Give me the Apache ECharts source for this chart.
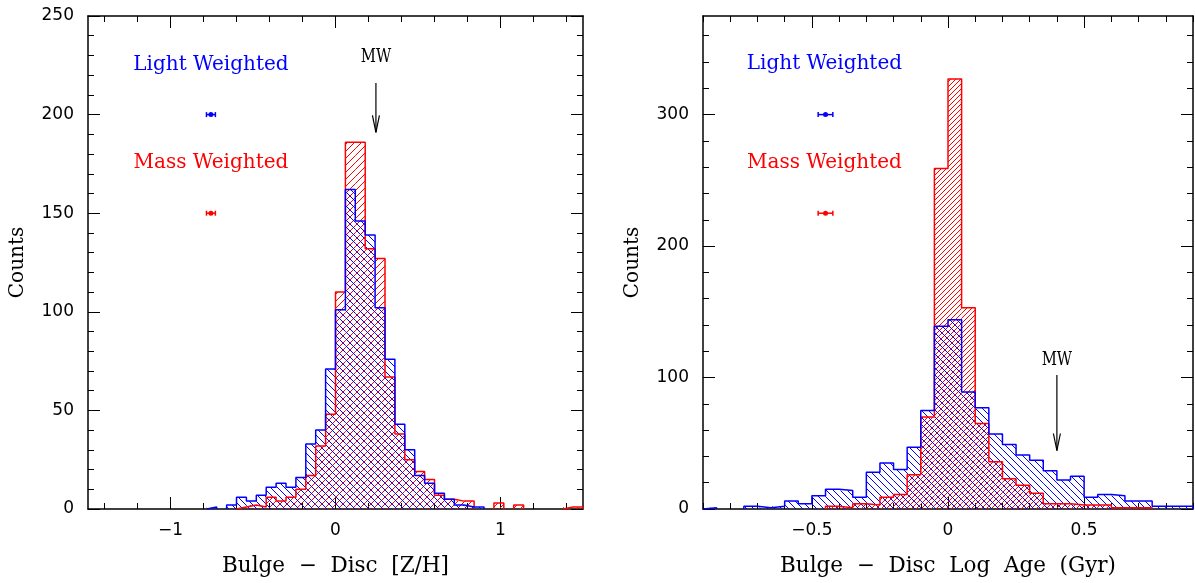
<!DOCTYPE html>
<html lang="en">
<head>
<meta charset="UTF-8">
<title>Bulge - Disc histograms</title>
<script src="https://cdn.jsdelivr.net/npm/echarts@6/dist/echarts.min.js"></script>
<style>
  html, body { margin: 0; padding: 0; background: #fff; }
  #chart { width: 1195px; height: 583px; }
</style>
</head>
<body>
<div id="chart"></div>
<script>
// ---- data: histogram counts ----
// left panel: bins of 0.06 in [Z/H], from -1.5 to 1.5
var leftBinStart = -1.5, leftBinWidth = 0.06;
var leftLight = [0,0,0,0,0,0,0,0,0,0, 0,0,1,0,2,6,4,7,11,13,
                 11,16,33,40,71,101,162,146,139,102, 76,43,30,17,13,8,5,2,1,1,
                 0,0,0,0,0,0,0,0,0,0];
var leftMass  = [0,0,0,0,0,0,0,0,0,0, 0,0,0,0,0,1,2,1,6,4,
                 6,10,17,32,48,110,186,186,132,127, 67,38,25,19,15,7,5,4,4,0,
                 0,3,0,2,0,0,0,0,1,1];

// right panel: bins of 0.05 in log age, from -0.9 to 0.9
var rightBinStart = -0.9, rightBinWidth = 0.05;
var rightLight = [1,0,0,2,1,2,6,4,10,15, 14,9,28,35,30,47,75,139,144,89,
                  77,57,49,41,37,29,22,25,9,11, 10,6,6,2,2,2];
var rightMass  = [0,0,0,0,0,0,0,0,0,2, 1,4,3,9,11,26,70,259,327,153,
                  65,36,23,18,12,4,4,3,3,3, 1,1,1,0,0,0];

// typical error bars (x, y, half width)
var leftErrLight = [-0.755, 200, 0.027];
var leftErrMass  = [-0.755, 150, 0.027];
var rightErrLight = [-0.45, 300, 0.027];
var rightErrMass  = [-0.45, 225, 0.027];

// legend texts (x, y)
var leftTextLight = [-0.755, 225.5], leftTextMass = [-0.755, 175.5];
var rightTextLight = [-0.454, 338.5], rightTextMass = [-0.454, 263.5];

// Milky Way arrows: x, top, tip, label y
var leftMW = [0.245, 216, 191, 229];
var rightMW = [0.40, 102, 44.5, 113.5];

// tick values
var leftMajor = [-1, 0, 1];
var rightMajor = [-0.5, 0, 0.5];
var leftYMajor = [0, 50, 100, 150, 200, 250];
var rightYMajor = [0, 100, 200, 300];

function range(a, b, step) {
    var out = [];
    var n = Math.round((b - a) / step);
    for (var i = 0; i <= n; i++) out.push(+(a + i * step).toFixed(4));
    return out;
}

var BLUE = '#0000ff', RED = '#ff0000';
var TICK_FONT = 'DejaVu Sans', TEXT_FONT = 'DejaVu Serif';

// hatch pattern: dir '/' or '\'
function hatch(color, s, dir) {
    var c = document.createElement('canvas');
    c.width = s; c.height = s;
    var ctx = c.getContext('2d');
    ctx.strokeStyle = color;
    ctx.lineWidth = 1;
    ctx.beginPath();
    if (dir === '/') {
        ctx.moveTo(0, s); ctx.lineTo(s, 0);
        ctx.moveTo(-1, 1); ctx.lineTo(1, -1);
        ctx.moveTo(s - 1, s + 1); ctx.lineTo(s + 1, s - 1);
    } else {
        ctx.moveTo(0, 0); ctx.lineTo(s, s);
        ctx.moveTo(-1, s - 1); ctx.lineTo(1, s + 1);
        ctx.moveTo(s - 1, -1); ctx.lineTo(s + 1, 1);
    }
    ctx.stroke();
    return {image: c, repeat: 'repeat'};
}

function bins(start, width, counts) {
    return counts.map(function (v, i) {
        return [+(start + i * width).toFixed(4), +(start + (i + 1) * width).toFixed(4), v];
    });
}

// outer outline of a histogram, broken where counts are zero
function outline(start, width, counts) {
    var pts = [];
    var inRun = false;
    for (var i = 0; i < counts.length; i++) {
        var x0 = +(start + i * width).toFixed(4), x1 = +(start + (i + 1) * width).toFixed(4);
        if (counts[i] > 0) {
            if (!inRun) { pts.push([x0, 0]); inRun = true; }
            pts.push([x0, counts[i]]);
            pts.push([x1, counts[i]]);
        } else if (inRun) {
            pts.push([x0, 0]);
            pts.push(null);
            inRun = false;
        }
    }
    if (inRun) pts.push([+(start + counts.length * width).toFixed(4), 0]);
    return pts;
}

function fillSeries(axis, data, pattern) {
    return {
        type: 'custom', xAxisIndex: axis, yAxisIndex: axis, z: 2,
        data: data, silent: true,
        renderItem: function (params, api) {
            var c = api.value(2);
            if (!c) return null;
            var p0 = api.coord([api.value(0), c]);
            var p1 = api.coord([api.value(1), 0]);
            return {type: 'rect',
                shape: {x: p0[0], y: p0[1], width: p1[0] - p0[0], height: p1[1] - p0[1]},
                style: {fill: pattern}};
        }
    };
}

function lineSeries(axis, data, color) {
    return {
        type: 'line', xAxisIndex: axis, yAxisIndex: axis, z: 4,
        data: data, symbol: 'none', connectNulls: false, silent: true,
        lineStyle: {color: color, width: 1.5}
    };
}

function errSeries(axis, pt, color) {
    return {
        type: 'custom', xAxisIndex: axis, yAxisIndex: axis, z: 5, silent: true,
        data: [pt],
        renderItem: function (params, api) {
            var c = api.coord([api.value(0), api.value(1)]);
            var l = api.coord([api.value(0) - api.value(2), api.value(1)]);
            var r = api.coord([api.value(0) + api.value(2), api.value(1)]);
            var st = {stroke: color, lineWidth: 1.5};
            return {type: 'group', children: [
                {type: 'line', shape: {x1: l[0], y1: c[1], x2: r[0], y2: c[1]}, style: st},
                {type: 'line', shape: {x1: l[0], y1: c[1] - 2.5, x2: l[0], y2: c[1] + 2.5}, style: st},
                {type: 'line', shape: {x1: r[0], y1: c[1] - 2.5, x2: r[0], y2: c[1] + 2.5}, style: st},
                {type: 'circle', shape: {cx: c[0], cy: c[1], r: 2.5}, style: {fill: color}}
            ]};
        }
    };
}

function textSeries(axis, items) {
    return {
        type: 'custom', xAxisIndex: axis, yAxisIndex: axis, z: 6, silent: true,
        data: items.map(function (t) { return t.pos; }),
        renderItem: function (params, api) {
            var t = items[params.dataIndex];
            var c = api.coord([api.value(0), api.value(1)]);
            return {type: 'text', x: c[0], y: c[1], scaleX: t.sx || 1,
                style: {text: t.text, fill: t.color, fontSize: t.size, fontFamily: TEXT_FONT,
                        align: 'center', verticalAlign: 'middle'}};
        }
    };
}

function arrowSeries(axis, mw) {
    return {
        type: 'custom', xAxisIndex: axis, yAxisIndex: axis, z: 6, silent: true,
        data: [mw],
        renderItem: function (params, api) {
            var top = api.coord([api.value(0), api.value(1)]);
            var tip = api.coord([api.value(0), api.value(2)]);
            var st = {stroke: '#000', lineWidth: 1.2};
            return {type: 'group', children: [
                {type: 'line', shape: {x1: top[0], y1: top[1], x2: tip[0], y2: tip[1]}, style: st},
                {type: 'line', shape: {x1: tip[0] - 3.5, y1: tip[1] - 17, x2: tip[0], y2: tip[1]}, style: st},
                {type: 'line', shape: {x1: tip[0] + 3.5, y1: tip[1] - 17, x2: tip[0], y2: tip[1]}, style: st}
            ]};
        }
    };
}

function fmt(v) { return String(v).replace('-', '\u2212'); }

var frameLine = {show: true, onZero: false, lineStyle: {color: '#000', width: 1.5}};
var tickStyle = {color: '#000', width: 1};
var nameStyle = {fontFamily: TEXT_FONT, fontSize: 21.5, color: '#000'};

function xAxes(grid, min, max, majors, minors, name) {
    var base = {type: 'value', gridIndex: grid, min: min, max: max, splitLine: {show: false}};
    return [
        Object.assign({}, base, {position: 'bottom', axisLine: frameLine,
            name: name, nameLocation: 'middle', nameGap: 46, nameTextStyle: nameStyle,
            axisTick: {inside: true, length: 12, customValues: majors, lineStyle: tickStyle},
            axisLabel: {customValues: majors, formatter: fmt, margin: 13,
                        fontFamily: TICK_FONT, fontSize: 17, color: '#000'}}),
        Object.assign({}, base, {position: 'bottom', axisLine: {show: false, onZero: false},
            axisTick: {inside: true, length: 6, customValues: minors, lineStyle: tickStyle},
            axisLabel: {show: false}}),
        Object.assign({}, base, {position: 'top', axisLine: frameLine,
            axisTick: {inside: true, length: 12, customValues: majors, lineStyle: tickStyle},
            axisLabel: {show: false}}),
        Object.assign({}, base, {position: 'top', axisLine: {show: false, onZero: false},
            axisTick: {inside: true, length: 6, customValues: minors, lineStyle: tickStyle},
            axisLabel: {show: false}})
    ];
}

function yAxes(grid, min, max, majors, minors) {
    var base = {type: 'value', gridIndex: grid, min: min, max: max, splitLine: {show: false}};
    return [
        Object.assign({}, base, {position: 'left', axisLine: frameLine,
            name: 'Counts', nameLocation: 'middle', nameGap: 60,
            nameTextStyle: {fontFamily: TEXT_FONT, fontSize: 20, color: '#000'},
            axisTick: {inside: true, length: 12, customValues: majors, lineStyle: tickStyle},
            axisLabel: {customValues: majors, margin: 14,
                        fontFamily: TICK_FONT, fontSize: 17, color: '#000'}}),
        Object.assign({}, base, {position: 'left', axisLine: {show: false, onZero: false},
            axisTick: {inside: true, length: 6, customValues: minors, lineStyle: tickStyle},
            axisLabel: {show: false}}),
        Object.assign({}, base, {position: 'right', axisLine: frameLine,
            axisTick: {inside: true, length: 12, customValues: majors, lineStyle: tickStyle},
            axisLabel: {show: false}}),
        Object.assign({}, base, {position: 'right', axisLine: {show: false, onZero: false},
            axisTick: {inside: true, length: 6, customValues: minors, lineStyle: tickStyle},
            axisLabel: {show: false}})
    ];
}

var chart = echarts.init(document.getElementById('chart'));

var option = {
    animation: false,
    backgroundColor: '#fff',
    grid: [
        {left: 88, top: 16, width: 495, height: 493},
        {left: 703, top: 16, width: 490, height: 493}
    ],
    xAxis: xAxes(0, -1.5, 1.5, leftMajor, range(-1.4, 1.4, 0.2), 'Bulge  \u2212  Disc  [Z/H]')
        .concat(xAxes(1, -0.9, 0.9, rightMajor, range(-0.9, 0.9, 0.1), 'Bulge  \u2212  Disc  Log  Age  (Gyr)')),
    yAxis: yAxes(0, 0, 250, leftYMajor, range(0, 250, 10))
        .concat(yAxes(1, 0, 375, rightYMajor, range(0, 360, 20))),
    series: [
        // left panel
        fillSeries(0, bins(leftBinStart, leftBinWidth, leftMass), hatch(RED, 7, '/')),
        fillSeries(0, bins(leftBinStart, leftBinWidth, leftLight), hatch(BLUE, 7, '\\')),
        lineSeries(0, outline(leftBinStart, leftBinWidth, leftMass), RED),
        lineSeries(0, outline(leftBinStart, leftBinWidth, leftLight), BLUE),
        errSeries(0, leftErrLight, BLUE),
        errSeries(0, leftErrMass, RED),
        textSeries(0, [
            {pos: leftTextLight, text: 'Light Weighted', color: BLUE, size: 20},
            {pos: leftTextMass, text: 'Mass Weighted', color: RED, size: 20},
            {pos: [leftMW[0], leftMW[3]], text: 'MW', color: '#000', size: 19, sx: 0.78}
        ]),
        arrowSeries(0, leftMW),
        // right panel
        fillSeries(4, bins(rightBinStart, rightBinWidth, rightMass), hatch(RED, 5, '/')),
        fillSeries(4, bins(rightBinStart, rightBinWidth, rightLight), hatch(BLUE, 7, '\\')),
        lineSeries(4, outline(rightBinStart, rightBinWidth, rightMass), RED),
        lineSeries(4, outline(rightBinStart, rightBinWidth, rightLight), BLUE),
        errSeries(4, rightErrLight, BLUE),
        errSeries(4, rightErrMass, RED),
        textSeries(4, [
            {pos: rightTextLight, text: 'Light Weighted', color: BLUE, size: 20},
            {pos: rightTextMass, text: 'Mass Weighted', color: RED, size: 20},
            {pos: [rightMW[0], rightMW[3]], text: 'MW', color: '#000', size: 19, sx: 0.78}
        ]),
        arrowSeries(4, rightMW)
    ]
};
chart.setOption(option);
</script>
</body>
</html>
